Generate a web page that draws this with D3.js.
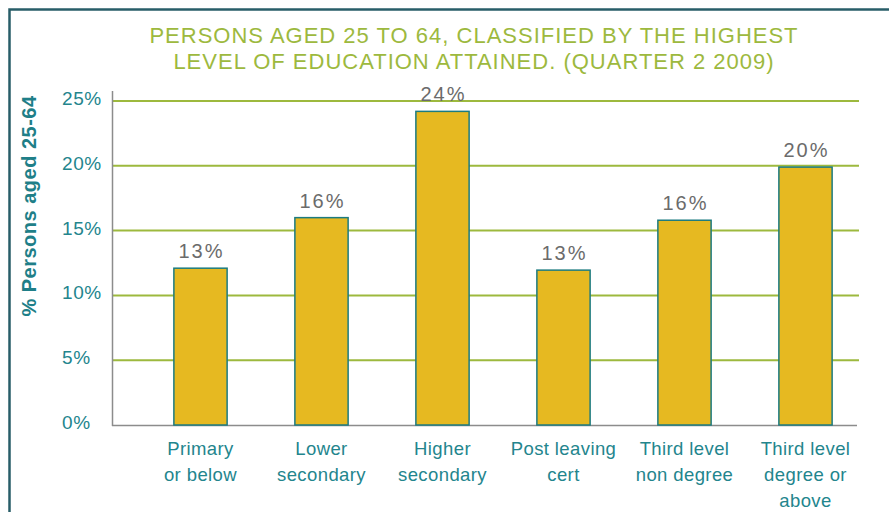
<!DOCTYPE html>
<html>
<head>
<meta charset="utf-8">
<script src="https://cdn.jsdelivr.net/npm/d3@7"></script>
<style>
  body { margin: 0; background: #fff; }
  svg { display: block; font-family: "Liberation Sans", Arial, sans-serif; }
</style>
</head>
<body>
<svg id="chart" width="889" height="512"></svg>
<script>
// data
var categories = [
	['Primary', 'or below'],
	['Lower', 'secondary'],
	['Higher', 'secondary'],
	['Post leaving', 'cert'],
	['Third level', 'non degree'],
	['Third level', 'degree or', 'above']
];
var shares = [12.1, 16.0, 24.2, 11.95, 15.8, 19.9];
var shareLabels = ['13%', '16%', '24%', '13%', '16%', '20%'];
var yTicks = [0, 5, 10, 15, 20, 25];
var titleLines = ['PERSONS AGED 25 TO 64, CLASSIFIED BY THE HIGHEST',
	'LEVEL OF EDUCATION ATTAINED. (QUARTER 2 2009)'];

var svg = d3.select('#chart');
var teal = '#23858d', olive = '#9db93e';

// frame
svg.append('path')
	.attr('d', 'M9.5,520 V9.5 H900')
	.attr('fill', 'none')
	.attr('stroke', '#285d68')
	.attr('stroke-width', 2.5);

var x = d3.scaleBand()
	.domain(d3.range(categories.length))
	.range([140, 866])
	.paddingInner(0.56)
	.paddingOuter(0.28);

var y = d3.scaleLinear().domain([0, 25]).range([425, 101]);

// grid
svg.selectAll('.grid').data(yTicks.slice(1)).enter().append('line')
	.attr('class', 'grid')
	.attr('x1', 112).attr('x2', 859)
	.attr('y1', function (d) { return y(d); })
	.attr('y2', function (d) { return y(d); })
	.attr('stroke', olive)
	.attr('stroke-width', 2);

// axes lines
svg.append('line').attr('x1', 112.5).attr('x2', 112.5).attr('y1', 91).attr('y2', 426)
	.attr('stroke', '#8c8c8c').attr('stroke-width', 1.5);
svg.append('line').attr('x1', 112).attr('x2', 857).attr('y1', 425.5).attr('y2', 425.5)
	.attr('stroke', '#8c8c8c').attr('stroke-width', 1.5);

// y tick labels
svg.selectAll('.ytick').data(yTicks).enter().append('text')
	.attr('class', 'ytick')
	.attr('x', 62)
	.attr('y', function (d) { return y(d) + 4; })
	.attr('fill', teal)
	.attr('font-size', 19)
	.attr('letter-spacing', 0.6)
	.text(function (d) { return d + '%'; });

// y title
svg.append('text')
	.attr('transform', 'translate(36,206) rotate(-90)')
	.attr('text-anchor', 'middle')
	.attr('fill', '#1f7f88')
	.attr('font-size', 20)
	.attr('font-weight', 'bold')
	.attr('letter-spacing', 0.5)
	.text('% Persons aged 25-64');

// bars
svg.selectAll('.bar').data(shares).enter().append('rect')
	.attr('class', 'bar')
	.attr('x', function (d, i) { return x(i); })
	.attr('width', x.bandwidth())
	.attr('y', function (d) { return y(d); })
	.attr('height', function (d) { return y(0) - y(d); })
	.attr('fill', '#e6b921')
	.attr('stroke', '#1c7b80')
	.attr('stroke-width', 1.5);

// value labels
svg.selectAll('.val').data(shares).enter().append('text')
	.attr('class', 'val')
	.attr('x', function (d, i) { return x(i) + x.bandwidth() / 2 + 1; })
	.attr('y', function (d) { return y(d) - 10; })
	.attr('text-anchor', 'middle')
	.attr('fill', '#6b6b6b')
	.attr('font-size', 20)
	.attr('letter-spacing', 2)
	.text(function (d, i) { return shareLabels[i]; });

// category labels
var cat = svg.selectAll('.cat').data(categories).enter().append('text')
	.attr('class', 'cat')
	.attr('text-anchor', 'middle')
	.attr('fill', teal)
	.attr('font-size', 18.5)
	.attr('letter-spacing', 0.4);
cat.selectAll('tspan').data(function (d, i) {
	return d.map(function (s) { return {s: s, i: i}; });
}).enter().append('tspan')
	.attr('x', function (d) { return x(d.i) + x.bandwidth() / 2; })
	.attr('y', function (d, j) { return 455 + j * 26; })
	.text(function (d) { return d.s; });

// title
svg.selectAll('.title').data(titleLines).enter().append('text')
	.attr('class', 'title')
	.attr('x', 474)
	.attr('y', function (d, i) { return 43 + i * 26; })
	.attr('text-anchor', 'middle')
	.attr('fill', olive)
	.attr('font-size', 22)
	.attr('letter-spacing', 1)
	.text(function (d) { return d; });
</script>
</body>
</html>
